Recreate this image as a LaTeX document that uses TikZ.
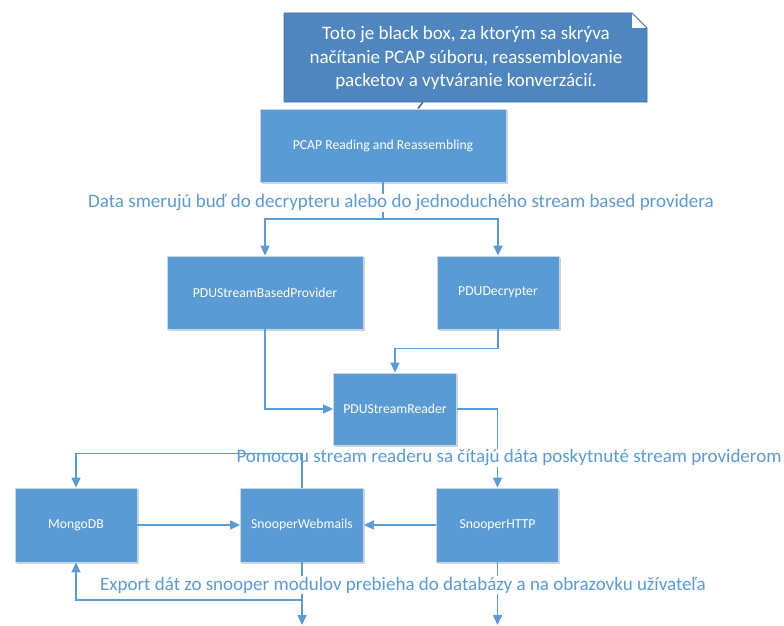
\documentclass[tikz,border=0pt]{standalone}
\usepackage{fontspec}
\setmainfont{Carlito}
\usetikzlibrary{arrows.meta,shadows}
\definecolor{boxblue}{HTML}{5B9BD5}
\definecolor{noteblue}{HTML}{4F86BF}
\definecolor{noteedge}{HTML}{41719C}
\definecolor{boxedge}{HTML}{C9D6E3}
\begin{document}
\begin{tikzpicture}[x=1pt,y=-1pt,
  block/.style={rectangle,fill=boxblue,draw=boxedge,line width=0.8pt,
    text=white,font=\fontsize{13.7}{16}\selectfont,inner sep=0pt,
    drop shadow={shadow xshift=1.5pt,shadow yshift=-1.5pt,opacity=0.18,fill=black}},
  flow/.style={draw=boxblue,line width=1.6pt,-{Triangle[length=10pt,width=9pt]}},
  plain/.style={draw=boxblue,line width=1.6pt},
  caption/.style={fill=white,text=boxblue,inner sep=1pt,font=\fontsize{19}{22}\selectfont}]
\useasboundingbox (0,0) rectangle (784,626);

% note with folded corner
\fill[noteblue] (284,13) -- (632,13) -- (647,28) -- (647,102) -- (284,102) -- cycle;
\draw[noteedge,line width=0.6pt] (284,13) -- (632,13) -- (647,28) -- (647,102) -- (284,102) -- cycle;
\fill[white] (632,13) -- (632,28) -- (647,28) -- cycle;
\draw[noteedge,line width=0.8pt] (632,13) -- (647,28);
\draw[noteedge,line width=1.6pt] (423,102) -- (418,108.5);
\node[text=white,align=center,font=\fontsize{19}{23.5}\selectfont] (note) at (466,58)
  {Toto je black box, za ktorým sa skrýva\\načítanie PCAP súboru, reassemblovanie\\packetov a vytváranie konverzácií.};

% processing blocks
\node[block,minimum width=246pt,minimum height=73pt] (pcap) at (383,145.5) {PCAP Reading and Reassembling};
\node[block,minimum width=196pt,minimum height=73pt] (prov) at (265,292.5) {PDUStreamBasedProvider};
\node[block,minimum width=122pt,minimum height=73pt] (dec) at (498,292.5) {PDUDecrypter};
\node[block,minimum width=123pt,minimum height=72pt] (reader) at (395,409) {PDUStreamReader};
\node[block,minimum width=122pt,minimum height=74pt] (mongo) at (76,525) {MongoDB};
\node[block,minimum width=123pt,minimum height=74pt] (web) at (302,525) {SnooperWebmails};
\node[block,minimum width=122pt,minimum height=74pt] (http) at (497.5,525) {SnooperHTTP};

% connectors
\coordinate (split) at (383,219);
\draw[plain] (pcap.south) -- (split);
\draw[flow] (split) -| (prov.north);
\draw[flow] (split) -| (dec.north);
\node[caption] (cap1) at (401,203) {Data smerujú buď do decrypteru alebo do jednoduchého stream based providera};

\draw[flow] (prov.south) |- (reader.west);
\draw[flow] (dec.south) -- ++(0,19) -| (reader.north);
\draw[flow] (reader.east) -| (http.north);
\node[caption] (cap2) at (509,458) {Pomocou stream readeru sa čítajú dáta poskytnuté stream providerom};
\draw[flow] (web.north) -- ++(0,-34) -| (mongo.north);

\draw[flow] (mongo.east) -- (web.west);
\draw[flow] (http.west) -- (web.east);

\coordinate (out1) at (302,625);
\coordinate (out2) at (497.5,625);
\coordinate (fork) at (302,600);
\draw[flow] (web.south) -- (out1);
\draw[flow] (fork) -| (mongo.south);
\draw[flow] (http.south) -- (out2);
\node[caption] (cap3) at (403,585) {Export dát zo snooper modulov prebieha do databázy a na obrazovku užívateľa};
\end{tikzpicture}
\end{document}
